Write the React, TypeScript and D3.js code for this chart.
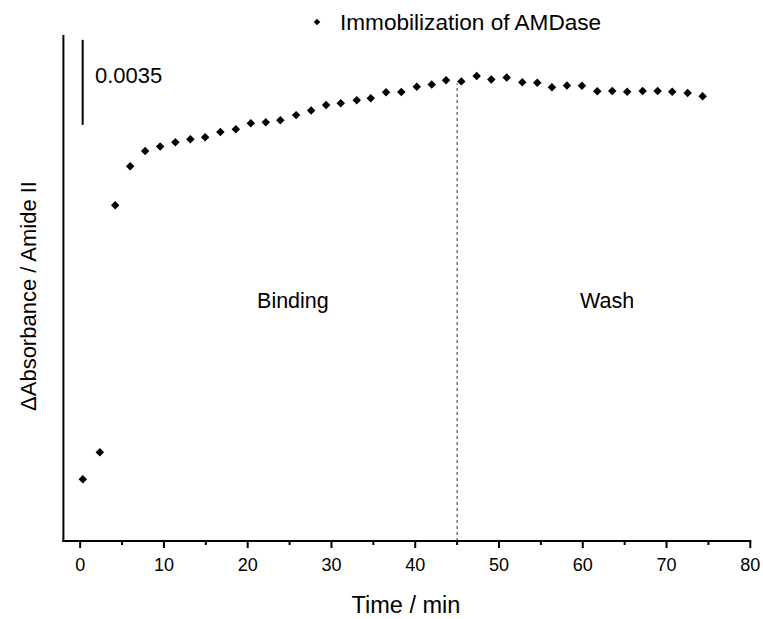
import React from "react";
import * as d3 from "d3";

const times = [0.32, 2.35, 4.18, 5.97, 7.76, 9.55, 11.37, 13.16, 14.92, 16.74, 18.58, 20.37, 22.16, 23.9, 25.78, 27.57, 29.36, 31.11, 33.02, 34.69, 36.52, 38.34, 40.18, 41.97, 43.68, 45.5, 47.34, 49.08, 50.92, 52.78, 54.57, 56.32, 58.11, 59.9, 61.73, 63.52, 65.3, 67.15, 68.94, 70.68, 72.52, 74.31];
const absorbance = [0, 0.00112, 0.01129, 0.01289, 0.01352, 0.01371, 0.01388, 0.01401, 0.01409, 0.01431, 0.01442, 0.01467, 0.01471, 0.01479, 0.015, 0.01519, 0.01542, 0.01549, 0.01561, 0.01569, 0.01594, 0.01595, 0.01617, 0.01626, 0.01644, 0.01639, 0.01661, 0.01647, 0.01655, 0.01635, 0.01633, 0.01615, 0.01622, 0.01621, 0.01598, 0.01599, 0.01596, 0.01599, 0.01599, 0.01596, 0.01591, 0.01578];
const majorTicks = [0, 10, 20, 30, 40, 50, 60, 70, 80];
const minorTicks = [5, 15, 25, 35, 45, 55, 65, 75];
const phaseLabels = ["Binding", "Wash"];
const phaseCenters = [25.4, 62.9];
const washStart = 45;
const scaleBarValue = 0.0035;
const scaleBarTop = 0.0181;
const legendLabel = "Immobilization of AMDase";

const W = 763;
const H = 619;
const FONT = "'Liberation Sans', Arial, sans-serif";

export default function App() {
  const x = d3.scaleLinear().domain([-2, 80]).range([63.4, 750.3]);
  const y = d3.scaleLinear().domain([-0.00254, 0.0183]).range([541, 35]);
  const diamond = d3.symbol().type(d3.symbolDiamond2).size(46)();
  const legendDiamond = d3.symbol().type(d3.symbolDiamond2).size(28)();
  const y0 = y.range()[0];

  return (
    <svg width={W} height={H} style={{ position: "absolute", left: 0, top: 0, background: "#fff" }}>
      <rect x={0} y={0} width={W} height={H} fill="#fff" />
      {/* axes */}
      <line x1={x(-2)} x2={x(-2)} y1={y(0.0183)} y2={y0 + 1} stroke="#000" strokeWidth={2} />
      <line x1={x(-2) - 1} x2={x(80) + 1} y1={y0} y2={y0} stroke="#000" strokeWidth={2} />
      {majorTicks.map((t) => (
        <g key={"M" + t}>
          <line x1={x(t)} x2={x(t)} y1={y0} y2={y0 + 7} stroke="#000" strokeWidth={2} />
          <text x={x(t)} y={y0 + 30} textAnchor="middle" fontFamily={FONT} fontSize={18} fill="#000">{t}</text>
        </g>
      ))}
      {minorTicks.map((t) => (
        <line key={"m" + t} x1={x(t)} x2={x(t)} y1={y0} y2={y0 + 4} stroke="#000" strokeWidth={2} />
      ))}
      <text x={406} y={613} textAnchor="middle" fontFamily={FONT} fontSize={23.5} fill="#000">Time / min</text>
      <text transform={`translate(36,${296}) rotate(-90)`} textAnchor="middle" fontFamily={FONT} fontSize={22} fill="#000">ΔAbsorbance / Amide II</text>

      {/* scale bar */}
      <line x1={x(0.3)} x2={x(0.3)} y1={y(scaleBarTop)} y2={y(scaleBarTop - scaleBarValue)} stroke="#000" strokeWidth={2} />
      <text x={95} y={83} fontFamily={FONT} fontSize={22} fill="#000">{scaleBarValue.toFixed(4)}</text>

      {/* wash divider */}
      <line x1={x(washStart)} x2={x(washStart)} y1={y0} y2={y(0.0163)} stroke="#333" strokeWidth={1} strokeDasharray="3,3" />

      {phaseLabels.map((l, i) => (
        <text key={l} x={x(phaseCenters[i])} y={308} textAnchor="middle" fontFamily={FONT} fontSize={21.5} fill="#000">{l}</text>
      ))}

      {/* data */}
      {times.map((t, i) => (
        <path key={i} d={diamond as string} transform={`translate(${x(t)},${y(absorbance[i])})`} fill="#000" />
      ))}

      {/* legend */}
      <path d={legendDiamond as string} transform="translate(317,22)" fill="#000" />
      <text x={340} y={30} fontFamily={FONT} fontSize={22.6} fill="#000">{legendLabel}</text>
    </svg>
  );
}
